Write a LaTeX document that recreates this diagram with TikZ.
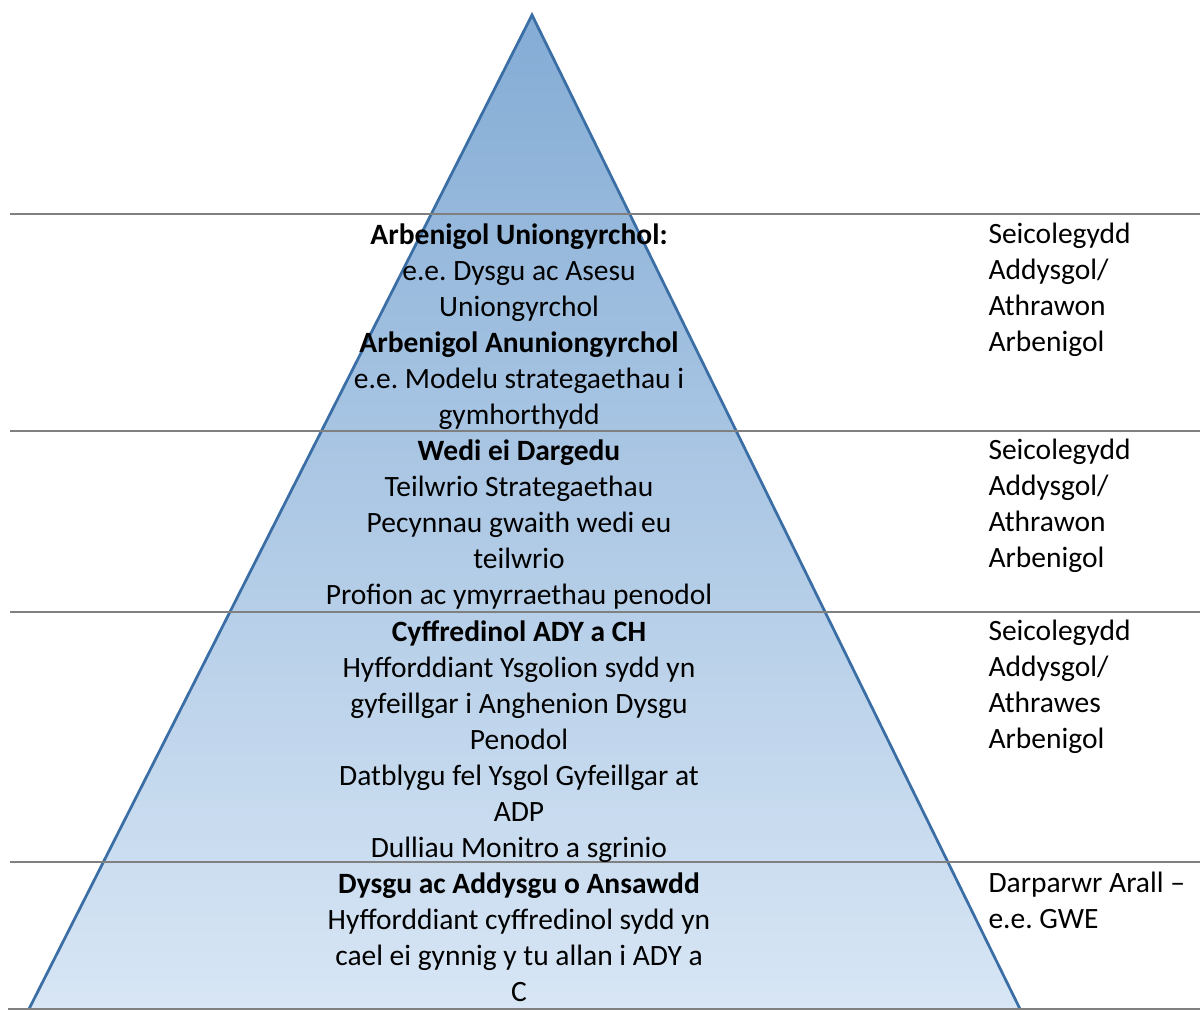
\documentclass[tikz,border=0pt]{standalone}
\usepackage{fontspec}
\setmainfont{Carlito}
\usepackage{xcolor}
\usetikzlibrary{positioning}
\frenchspacing

\definecolor{edgeblue}{RGB}{58,110,165}
\definecolor{topblue}{RGB}{132,172,213}
\definecolor{lowblue}{RGB}{216,230,245}
\definecolor{rulegray}{RGB}{128,128,128}

\tikzset{
  level/.style={anchor=north,align=center,inner sep=0pt,font=\fontsize{11.8}{14.4}\selectfont},
  who/.style={anchor=north west,align=left,inner sep=0pt,font=\fontsize{11.8}{14.4}\selectfont},
  rule/.style={draw=rulegray,line width=0.9pt}
}

\begin{document}
\begin{tikzpicture}[x=0.4pt,y=-0.4pt]
\useasboundingbox (0,0) rectangle (1200,1012);

% the pyramid
\coordinate (apex) at (532,15);
\coordinate (baseL) at (29,1009);
\coordinate (baseR) at (1020,1009);
\shade[top color=topblue,bottom color=lowblue] (apex) -- (baseR) -- (baseL) -- cycle;
\draw[edgeblue,line width=1.1pt,line join=miter] (baseL) -- (apex) -- (baseR);

% table rules
\draw[rule] (10,214) -- (1200,214);
\draw[rule] (10,431) -- (1200,431);
\draw[rule] (10,612) -- (1200,612);
\draw[rule] (10,862) -- (1200,862);
\draw[rule] (8,1009) -- (1200,1009);

% levels
\node[level] (L1) at (519,223) {\textbf{Arbenigol Uniongyrchol:}\\e.e. Dysgu ac Asesu\\Uniongyrchol\\\textbf{Arbenigol Anuniongyrchol}\\e.e. Modelu strategaethau i\\gymhorthydd};
\node[level] (L2) at (519,439) {\textbf{Wedi ei Dargedu}\\Teilwrio Strategaethau\\Pecynnau gwaith wedi eu\\teilwrio\\Profion ac ymyrraethau penodol};
\node[level] (L3) at (519,620) {\textbf{Cyffredinol ADY a CH}\\Hyfforddiant Ysgolion sydd yn\\gyfeillgar i Anghenion Dysgu\\Penodol\\Datblygu fel Ysgol Gyfeillgar at\\ADP\\Dulliau Monitro a sgrinio};
\node[level] (L4) at (519,872) {\textbf{Dysgu ac Addysgu o Ansawdd}\\Hyfforddiant cyffredinol sydd yn\\cael ei gynnig y tu allan i ADY a\\C};

% who provides
\node[who] (W1) at (988,223) {Seicolegydd\\Addysgol/\\Athrawon\\Arbenigol};
\node[who] (W2) at (988,439) {Seicolegydd\\Addysgol/\\Athrawon\\Arbenigol};
\node[who] (W3) at (988,620) {Seicolegydd\\Addysgol/\\Athrawes\\Arbenigol};
\node[who] (W4) at (988,872) {Darparwr Arall --\\e.e. GWE};
\end{tikzpicture}
\end{document}
